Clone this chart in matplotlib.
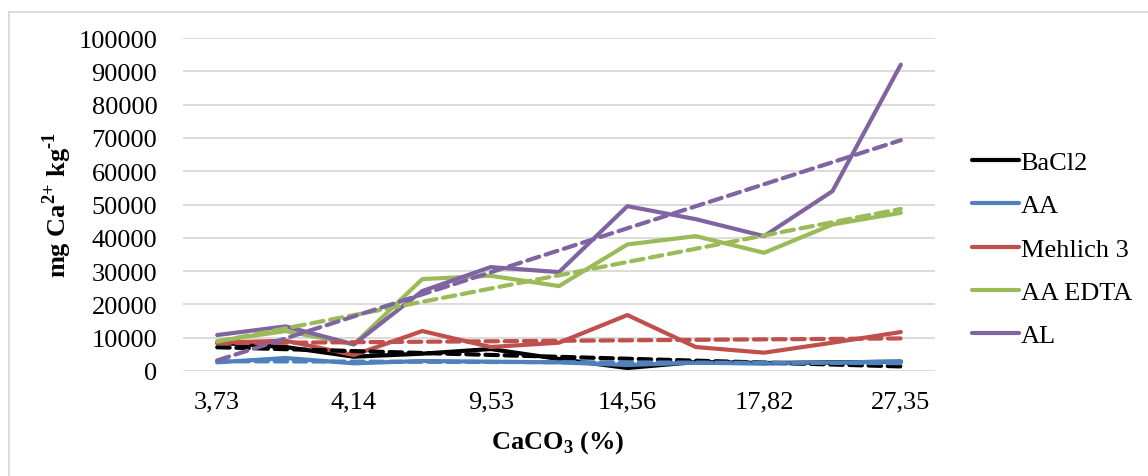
import numpy as np
import matplotlib
matplotlib.use("Agg")
import matplotlib.pyplot as plt
from matplotlib.lines import Line2D

# Ca-Gehalt je Extraktionsmethode, 11 Proben nach CaCO3 sortiert
tick_labels = ["3,73", "4,14", "9,53", "14,56", "17,82", "27,35"]
n_samples = 11

bacl2 = [8500, 7200, 4300, 5200, 6600, 3600, 900, 2700, 2400, 2600, 2800]
aa = [2600, 3900, 2300, 3000, 2800, 2600, 1800, 2500, 2200, 2500, 2900]
mehlich3 = [8500, 9100, 4800, 12000, 7200, 8500, 16800, 7200, 5500, 8500, 11700]
aa_edta = [9000, 12000, 8000, 27600, 28600, 25500, 38000, 40500, 35500, 44000, 47500]
al = [10800, 13400, 8000, 24000, 31200, 29700, 49500, 45600, 40500, 54000, 92000]

names = ["BaCl2", "AA", "Mehlich 3", "AA EDTA", "AL"]
colors = ["#000000", "#4f81bd", "#c0504d", "#9bbb59", "#8064a2"]
series = [bacl2, aa, mehlich3, aa_edta, al]

plt.rcParams["font.family"] = ["Liberation Serif", "DejaVu Serif"]
plt.rcParams["mathtext.fontset"] = "custom"
plt.rcParams["mathtext.rm"] = "Liberation Serif"
plt.rcParams["mathtext.bf"] = "Liberation Serif:bold"

fs = 19
fig = plt.figure(figsize=(11.48, 4.77), dpi=100)
W, H = 1148, 477
ax = fig.add_axes([183 / W, 1 - 372 / H, (935 - 183) / W, (372 - 39) / H])

x = np.arange(n_samples)

for vals, c, name in zip(series, colors, names):
    ax.plot(x, vals, color=c, lw=3, solid_joinstyle="round",
            solid_capstyle="round", zorder=3, label=name)

# lineare Trendlinien
for vals, c in zip(series, colors):
    k, d = np.polyfit(x, vals, 1)
    ax.plot(x, k * x + d, color=c, lw=3, ls=(0, (3, 1.6)),
            dash_capstyle="round", zorder=4)

ax.set_xlim(-0.5, n_samples - 0.5)
ax.set_ylim(0, 100000)
ax.set_yticks(np.arange(0, 100001, 10000))
ax.set_xticks(np.arange(0, n_samples, 2))
ax.set_xticklabels(tick_labels)
ax.tick_params(axis="both", length=0, labelsize=fs, colors="#000000")
ax.tick_params(axis="x", pad=14)
ax.tick_params(axis="y", pad=18.5)
ax.grid(axis="y", color="#d9d9d9", lw=1.3)
ax.set_axisbelow(True)
for s in ax.spines.values():
    s.set_visible(False)

fig.text(57 / W, 1 - 205 / H,
         "mg Ca$^{\\mathbf{2{+}}}$ kg$^{\\mathbf{\u2010 1}}$",
         rotation=90, ha="center", va="center", fontsize=fs, fontweight="bold")
fig.text(558 / W, 1 - 443 / H, r"CaCO$_{\mathbf{3}}$ (%)",
         ha="center", va="center", fontsize=fs, fontweight="bold")

leg_handles = [Line2D([], [], color=c, lw=3, solid_capstyle="round") for c in colors]
fig.legend(leg_handles, names, loc="center left",
           bbox_to_anchor=(948 / W, 1 - 250 / H), frameon=False,
           fontsize=fs, handlelength=1.8, handletextpad=0.05,
           labelspacing=0.75)

# Rahmen des Diagrammbereichs (oben und links)
fig.add_artist(Line2D([9 / W, 9 / W], [0, 1 - 13 / H], color="#d9d9d9", lw=1.3))
fig.add_artist(Line2D([9 / W, 1], [1 - 13 / H, 1 - 13 / H], color="#d9d9d9", lw=1.3))

fig.savefig("out.png", dpi=100, facecolor="white")
